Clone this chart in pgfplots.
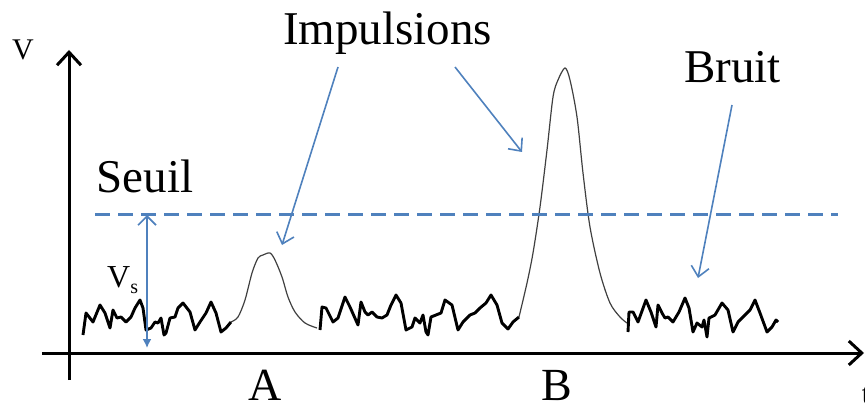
\documentclass[border=0pt]{standalone}
\usepackage{pgfplots}
\pgfplotsset{compat=1.18}
\usepackage{fontspec}
\setmainfont{Liberation Serif}
\usetikzlibrary{arrows.meta}
\definecolor{bleu}{RGB}{79,129,189}

\begin{document}
\begin{tikzpicture}
\begin{axis}[
    scale only axis,
    width=822pt, height=330pt,
    xmin=-27, xmax=795,
    ymin=-27, ymax=303,
    axis lines=middle,
    axis line style={line width=3pt},
    every inner x axis line/.append style={-{Straight Barb[length=13pt,width=24pt]}},
    every inner y axis line/.append style={-{Straight Barb[length=13pt,width=24pt]}},
    xtick=\empty, ytick=\empty,
    clip=false,
]

% bruit, premier morceau
\addplot[black, line width=2.9pt, line join=round] coordinates {
(14,18)(17,40)(24,31)(31,48)(36,40)(41,25)(44,43)(48,35)(52,36)(57,31)
(62,36)(66,45)(71,53)(74,45)(77,23)(82,25)(86,31)(89,30)(92,35)(95,18)
(97,20)(101,35)(106,36)(109,45)(114,50)(121,41)(126,23)(131,31)(137,40)
(142,51)(147,40)(152,21)(157,25)(162,31)
};
% impulsion A
\addplot[black!75, line width=1.2pt, smooth] coordinates {
(162,31)(169,36)(176,53)(183,80)(189,95)(194,98)(201,100)(206,93)(213,76)
(219,56)(226,41)(236,30)(248,25)
};
% bruit, deuxieme morceau
\addplot[black, line width=2.9pt, line join=round] coordinates {
(251,23)(253,46)(257,45)(264,31)(269,35)(276,56)(281,46)(289,28)(292,51)
(296,41)(299,38)(303,41)(308,36)(313,35)(318,38)(322,48)(327,58)(332,50)
(337,23)(343,26)(346,35)(351,30)(354,38)(357,21)(359,18)(362,36)(367,38)
(372,40)(376,53)(383,48)(389,23)(394,31)(401,38)(406,40)(411,45)(417,50)
(422,58)(428,48)(433,30)(439,24)(444,31)(450,36)
};
% impulsion B
\addplot[black!75, line width=1.2pt, smooth] coordinates {
(450,36)(458,70)(464,100)(471,146)(478,203)(484,256)(489,273)(496,285)
(501,273)(508,236)(514,180)(521,126)(531,80)(541,50)(551,36)(558,30)
};
% bruit, troisieme morceau
\addplot[black, line width=2.9pt, line join=round] coordinates {
(559,21)(560,41)(564,41)(569,31)(577,53)(582,41)(587,26)(589,48)(593,40)
(596,35)(599,36)(604,31)(610,41)(616,55)(620,45)(624,21)(628,30)(633,26)
(635,33)(638,16)(640,35)(646,38)(653,50)(659,43)(664,21)(669,31)(676,38)
(681,43)(686,53)(691,40)(698,21)(703,26)(707,33)(709,31)
};

% seuil
\addplot[bleu, line width=3pt, dash pattern=on 15pt off 8pt] coordinates {(26,139)(769,139)};
\addplot[bleu, line width=1.6pt, {Straight Barb[length=9pt,width=18pt]}-{Latex[length=9pt,width=9pt]}] coordinates {(78,138)(78,5)};

% fleches
\addplot[bleu, line width=1.6pt, -{Straight Barb[length=10pt,width=18pt]}] coordinates {(269,286)(213,108)};
\addplot[bleu, line width=1.6pt, -{Straight Barb[length=10pt,width=18pt]}] coordinates {(386,286)(453,201)};
\addplot[bleu, line width=1.6pt, -{Straight Barb[length=10pt,width=18pt]}] coordinates {(663,248)(629,75)};

% textes
\node[anchor=base, font=\fontsize{47}{50}\selectfont] at (axis cs:318.5,308) {Impulsions};
\node[anchor=base, font=\fontsize{47}{50}\selectfont] at (axis cs:663.5,270) {Bruit};
\node[anchor=base, font=\fontsize{47}{50}\selectfont] at (axis cs:76,160) {Seuil};
\node[anchor=base, font=\fontsize{46}{50}\selectfont] at (axis cs:196,-47) {A};
\node[anchor=base, font=\fontsize{46}{50}\selectfont] at (axis cs:488,-47) {B};
\node[anchor=base west, inner sep=0pt, font=\fontsize{32}{34}\selectfont] at (axis cs:38,66) {V\raisebox{-7pt}{\fontsize{20}{20}\selectfont s}};
\node[font=\fontsize{30}{32}\selectfont] at (axis cs:-46,303) {V};
\node[font=\fontsize{30}{32}\selectfont] at (axis cs:797,-42) {t};

\coordinate (bbsw) at (axis cs:-69,-57);
\coordinate (bbne) at (axis cs:796,353);
\end{axis}
\pgfresetboundingbox
\path[use as bounding box] (bbsw) rectangle (bbne);
\end{tikzpicture}
\end{document}
